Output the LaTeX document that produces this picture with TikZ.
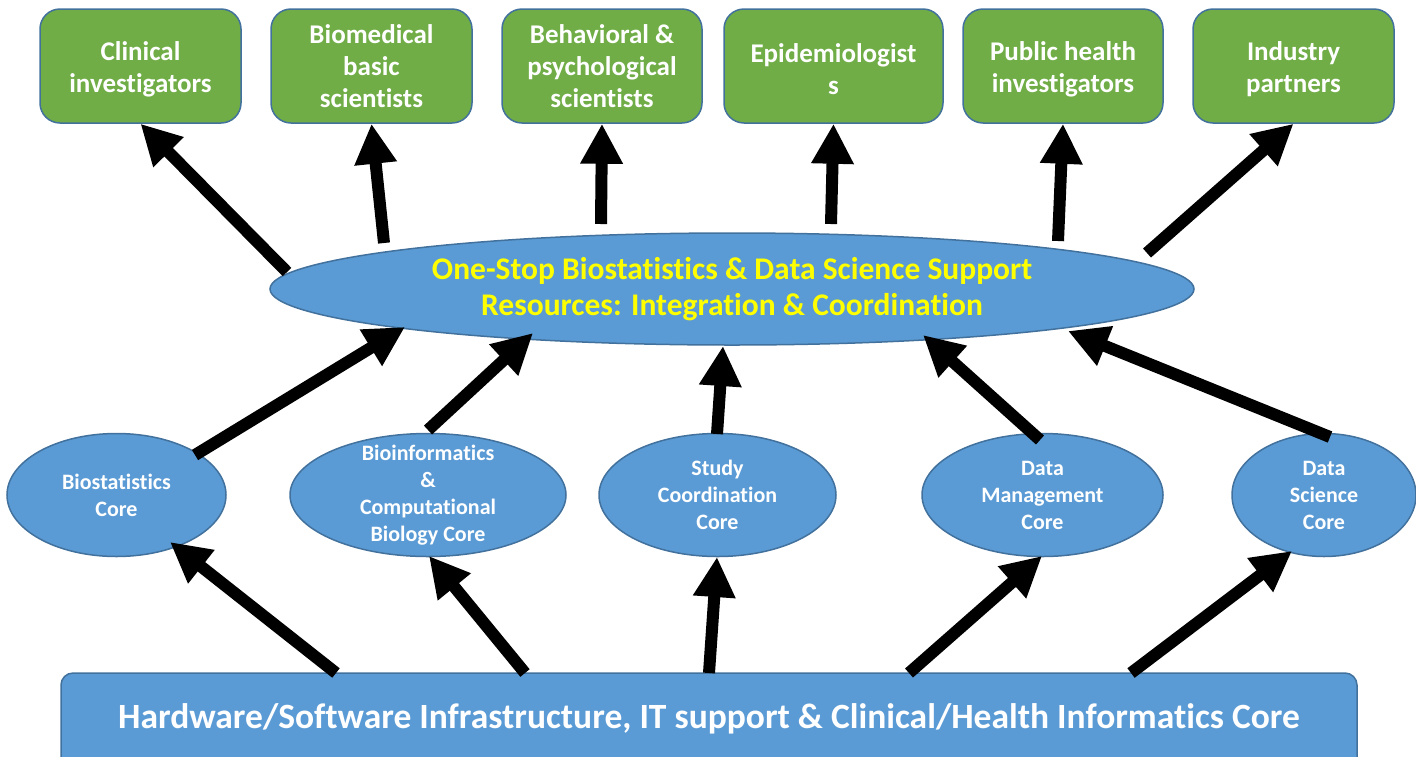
\documentclass[tikz,border=0pt]{standalone}
\usepackage{fontspec}
\setmainfont{Carlito}[Ligatures=NoCommon]
\usetikzlibrary{shapes.geometric,arrows.meta}
\definecolor{greenc}{HTML}{70AD47}
\definecolor{bluec}{HTML}{5B9BD5}
\definecolor{bordc}{HTML}{41719C}
\definecolor{yellowc}{HTML}{FFFF00}
\tikzset{
  topbox/.style={draw=bordc, fill=greenc, line width=1.5pt, rounded corners=20pt,
    inner sep=0pt, minimum height=114pt},
  toptxt/.style={text=white, font=\bfseries\fontsize{27}{32}\selectfont, align=center},
  bigell/.style={draw=bordc, fill=bluec, line width=1.5pt, ellipse, inner sep=0pt},
  bigtxt/.style={text=yellowc, font=\bfseries\fontsize{31.5}{36}\selectfont, align=center},
  smell/.style={draw=bordc, fill=bluec, line width=1.5pt, ellipse, inner sep=0pt, minimum height=123pt},
  smtxt/.style={text=white, font=\bfseries\fontsize{22}{27}\selectfont, align=center},
  basebox/.style={draw=bordc, fill=bluec, line width=1.5pt, rounded corners=12pt, inner sep=0pt},
  basetext/.style={text=white, font=\bfseries\fontsize{35.5}{40}\selectfont, inner sep=0pt},
  conn/.style={black, line width=12pt, -{Triangle[width=40pt,length=40pt]}}
}
\begin{document}
\begin{tikzpicture}[x=1pt,y=-1pt]
\useasboundingbox (0,0) rectangle (1416,756);
% top boxes
\node[topbox, minimum width=201pt, label={[toptxt, yshift=-3pt]center:{Clinical\\investigators}}] (clin) at (140.5,66) {};
\node[topbox, minimum width=201pt, label={[toptxt]center:{Biomedical\\basic\\scientists}}] (biomed) at (371.5,66) {};
\node[topbox, minimum width=200pt, label={[toptxt]center:{Behavioral \&\\psychological\\scientists}}] (behav) at (602,66) {};
\node[topbox, minimum width=219pt, label={[toptxt, yshift=-3pt]center:{Epidemiologist\\s}}] (epi) at (833.5,66) {};
\node[topbox, minimum width=200pt, label={[toptxt, yshift=-3pt]center:{Public health\\investigators}}] (pub) at (1063,66) {};
\node[topbox, minimum width=201pt, label={[toptxt, yshift=-3pt]center:{Industry\\partners}}] (ind) at (1293.5,66) {};
% big ellipse
\node[bigell, minimum width=924pt, minimum height=112pt,
  label={[bigtxt]center:{One-Stop Biostatistics \& Data Science Support\\Resources: Integration \& Coordination}}] (big) at (732,289) {};
% small ellipses
\node[smell, minimum width=219pt, label={[smtxt]center:{Biostatistics\\Core}}] (bs) at (116.5,495) {};
\node[smell, minimum width=276pt, label={[smtxt]center:{Bioinformatics\\\&\\Computational\\Biology Core}}] (bi) at (428,495) {};
\node[smell, minimum width=237pt, label={[smtxt]center:{Study\\Coordination\\Core}}] (sc) at (717.5,495) {};
\node[smell, minimum width=241pt, label={[smtxt]center:{Data\\Management\\Core}}] (dm) at (1042.5,495) {};
\node[smell, minimum width=184pt, label={[smtxt]center:{Data\\Science\\Core}}] (ds) at (1324,495) {};
% base box
\node[basebox, minimum width=1296pt, minimum height=97pt,
  label={[basetext, yshift=3pt]center:{Hardware/Software Infrastructure, IT support \& Clinical/Health Informatics Core}}] (base) at (709,721.5) {};
% coordinates
\coordinate (t1) at (287,272);
\coordinate (t2) at (384,243);
\coordinate (t3) at (601,224);
\coordinate (t4) at (831,224);
\coordinate (t5) at (1058,241);
\coordinate (t6) at (1147,253);
\coordinate (m1s) at (195,455); \coordinate (m1e) at (405,327);
\coordinate (m2s) at (428,430); \coordinate (m2e) at (533,333);
\coordinate (m3s) at (717,434); \coordinate (m3e) at (723,346);
\coordinate (m4s) at (1040,440); \coordinate (m4e) at (923,335);
\coordinate (m5s) at (1330,437); \coordinate (m5e) at (1068,331);
\coordinate (b1s) at (336,673); \coordinate (b1e) at (170,542);
\coordinate (b2s) at (525,673); \coordinate (b2e) at (429,556);
\coordinate (b3s) at (709,673); \coordinate (b3e) at (717,557);
\coordinate (b4s) at (909,673); \coordinate (b4e) at (1042,556);
\coordinate (b5s) at (1131,673); \coordinate (b5e) at (1292,551);
% arrows
\draw[conn] (t1) -- (clin.south);
\draw[conn] (t2) -- (biomed.south);
\draw[conn] (t3) -- (behav.south);
\draw[conn] (t4) -- (epi.south);
\draw[conn] (t5) -- (pub.south);
\draw[conn] (t6) -- (ind.south);
\draw[conn] (m1s) -- (m1e);
\draw[conn] (m2s) -- (m2e);
\draw[conn] (m3s) -- (m3e);
\draw[conn] (m4s) -- (m4e);
\draw[conn] (m5s) -- (m5e);
\draw[conn] (b1s) -- (b1e);
\draw[conn] (b2s) -- (b2e);
\draw[conn] (b3s) -- (b3e);
\draw[conn] (b4s) -- (b4e);
\draw[conn] (b5s) -- (b5e);
\end{tikzpicture}
\end{document}
